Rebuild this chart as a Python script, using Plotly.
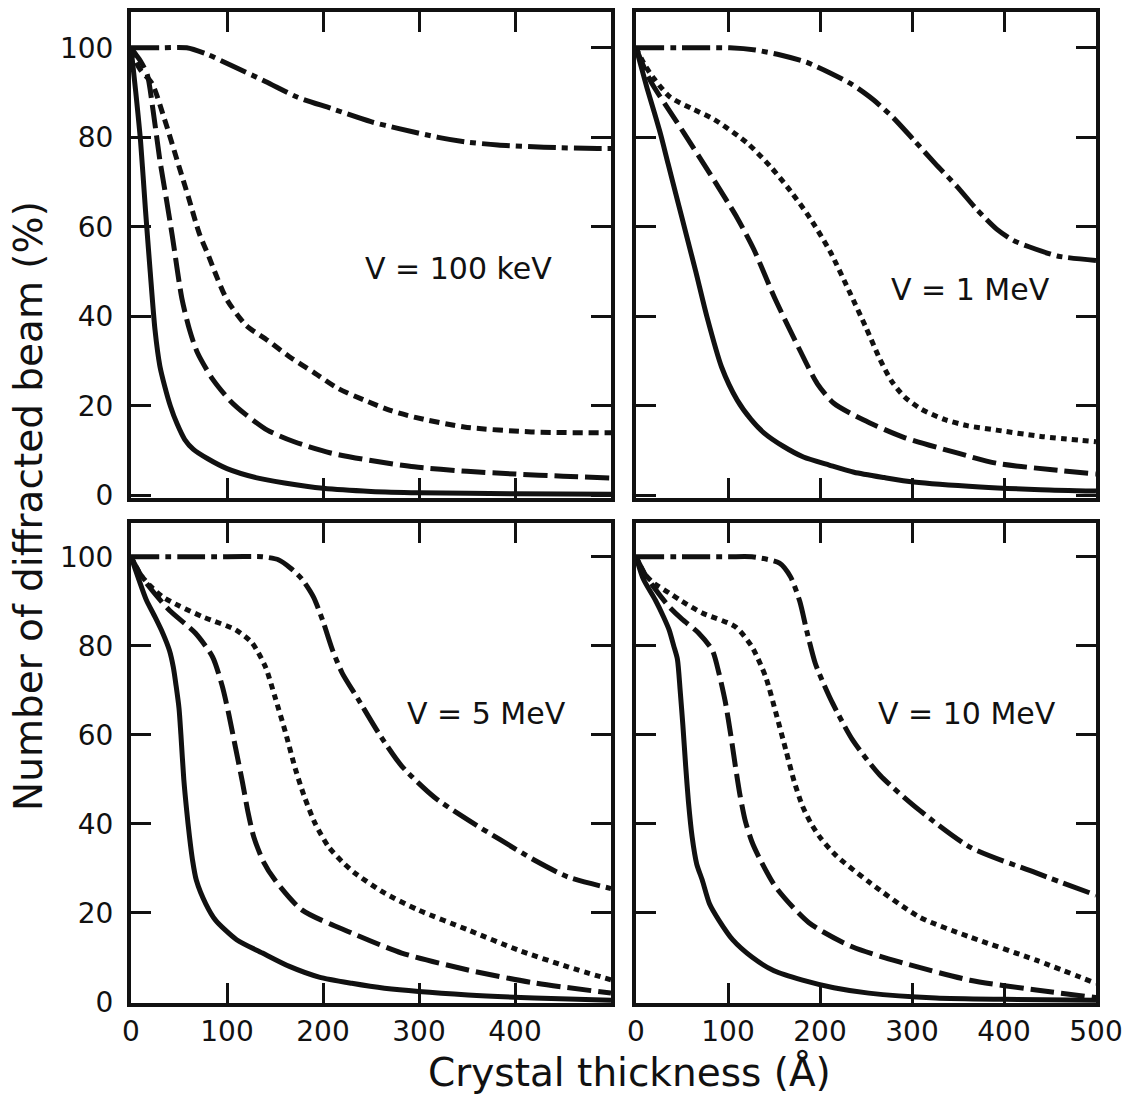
import plotly.graph_objects as go

# ---------------- data ----------------
# V = 100 keV (top-left)
kev100_solid_x = [0, 5, 10, 15, 20, 25, 30, 35, 41, 48, 56, 65, 80, 100, 130, 160, 200, 250, 300, 400, 500]
kev100_solid_y = [100, 90, 79, 64, 50, 37, 29, 24.5, 20, 16, 12.5, 10.3, 8.2, 6, 4, 2.8, 1.6, 0.9, 0.6, 0.4, 0.3]
kev100_long_x = [0, 5, 10, 17, 23, 30, 37, 43, 53, 61, 69, 85, 104, 120, 142, 170, 208, 250, 295, 350, 400, 450, 500]
kev100_long_y = [100, 98.5, 97, 94, 86, 75, 66, 58, 44, 37, 32, 26, 21, 18, 14.6, 12, 9.5, 7.8, 6.4, 5.4, 4.8, 4.3, 3.9]
kev100_short_x = [0, 5, 10, 22, 35, 50, 60, 71, 81, 90, 100, 120, 142, 165, 191, 215, 243, 270, 295, 347, 417, 500]
kev100_short_y = [100, 97, 95, 92, 84, 73.5, 66.5, 58.6, 53.4, 48.5, 43.7, 38, 34.7, 31, 27.4, 24, 21.3, 19, 17.5, 15.3, 14.2, 14]
kev100_dd_x = [0, 30, 58, 80, 103, 140, 173, 208, 250, 278, 320, 348, 382, 430, 486, 500]
kev100_dd_y = [100, 100, 100, 98.5, 96.2, 92.5, 89, 86.5, 83.5, 82, 80, 79, 78.3, 77.8, 77.5, 77.5]

# V = 1 MeV (top-right)
mev1_solid_x = [0, 6, 12, 20, 27, 35, 45, 55, 65, 77, 93, 110, 125, 139, 160, 182, 210, 237, 270, 302, 374, 440, 500]
mev1_solid_y = [100, 95.5, 91, 85.5, 80.5, 74, 66, 58, 50, 40, 28.7, 21.3, 17, 14, 11, 8.6, 6.8, 5.2, 4, 3, 1.9, 1.3, 1]
mev1_long_x = [0, 8, 16, 24, 33, 52, 80, 110, 128, 151, 178, 197, 215, 247, 291, 349, 392, 450, 500]
mev1_long_y = [100, 96, 92.5, 89.8, 87, 81, 72, 62, 55, 44, 32.5, 25, 20.6, 16.9, 13, 9.5, 7.2, 5.8, 4.8]
mev1_short_x = [0, 10, 20, 37, 60, 85, 121, 146, 168, 189, 211, 232, 250, 265, 278, 292, 310, 335, 360, 392, 440, 500]
mev1_short_y = [100, 96, 93, 89, 86.5, 84, 78.7, 73.5, 68, 62, 54.5, 45.5, 37.5, 30.5, 25.5, 22, 19.3, 17, 15.6, 14.6, 13.2, 12]
mev1_dd_x = [0, 50, 102, 130, 157, 185, 211, 235, 258, 280, 302, 325, 349, 370, 392, 410, 428, 458, 500]
mev1_dd_y = [100, 100, 100, 99.5, 98.4, 96.8, 94.4, 91.8, 88.4, 84.3, 79.4, 74.2, 69, 64, 59.5, 57, 55.5, 53.5, 52.5]

# V = 5 MeV (bottom-left)
mev5_solid_x = [0, 8, 16, 25, 33, 40, 44, 47, 50, 52, 55, 58, 61, 64, 68, 78, 88, 110, 137, 165, 196, 230, 264, 351, 420, 500]
mev5_solid_y = [100, 95, 90.3, 86.5, 82.9, 79, 75.3, 71, 66, 60, 50, 43, 37, 32, 27.4, 22, 18.4, 14, 11, 8, 5.6, 4.2, 3.1, 1.6, 0.9, 0.4]
mev5_long_x = [0, 10, 20, 40, 67, 85, 95, 102, 109, 116, 122, 128, 138, 150, 178, 230, 282, 351, 420, 500]
mev5_long_y = [100, 96, 93, 88, 82.9, 77.5, 71, 64.5, 57, 49.5, 42.5, 37, 31.5, 27.4, 20.7, 15.5, 11, 7.2, 4.3, 2]
mev5_short_x = [0, 10, 20, 33, 50, 75, 109, 126, 140, 150, 161, 171, 180, 192, 206, 220, 233, 264, 299, 351, 403, 455, 500]
mev5_short_y = [100, 96, 93.5, 91, 89, 86.5, 83.6, 80.7, 75.3, 68.5, 60.5, 52.5, 46.5, 40, 34.8, 31.5, 29, 24.5, 20.7, 16.2, 11.7, 7.9, 5]
mev5_dd_x = [0, 50, 100, 137, 154, 166, 178, 190, 200, 210, 220, 237, 258, 282, 316, 351, 385, 420, 455, 500]
mev5_dd_y = [100, 100, 100, 100, 99.3, 97.5, 95, 91, 85.5, 79, 73.9, 67.9, 60.4, 53, 46, 40.9, 36.4, 31.9, 28.1, 25.5]

# V = 10 MeV (bottom-right)
mev10_solid_x = [0, 8, 21, 30, 36, 41, 45, 48, 51, 54, 57, 61, 66, 72, 80, 90, 105, 126, 150, 181, 215, 253, 326, 400, 500]
mev10_solid_y = [100, 95, 90.3, 86.5, 83.6, 80, 77, 70, 62, 53, 45, 37.1, 31, 27.4, 22, 18.4, 14, 10.1, 7, 4.9, 3.2, 2, 0.9, 0.6, 0.4]
mev10_long_x = [0, 10, 20, 36, 50, 68, 83, 90, 97, 103, 108, 113, 119, 126, 134, 152, 188, 235, 290, 363, 435, 500]
mev10_long_y = [100, 96, 93, 88.8, 86, 82.9, 79, 74, 67.5, 60, 53, 46.5, 40.5, 36, 32.4, 25.8, 17.8, 12.4, 8.8, 4.9, 2.7, 1]
mev10_short_x = [0, 10, 20, 36, 50, 72, 108, 126, 141, 152, 163, 172, 181, 190, 200, 217, 253, 308, 363, 435, 500]
mev10_short_y = [100, 96, 94, 91.9, 90, 87.4, 84.3, 79.8, 73, 65, 56.5, 49.5, 44, 40.2, 37, 33, 27, 19.1, 14.6, 9.4, 4.2]
mev10_dd_x = [0, 50, 101, 126, 156, 168, 178, 186, 195, 205, 214, 235, 265, 308, 363, 435, 500]
mev10_dd_y = [100, 100, 100, 100, 98.6, 95.5, 90, 83, 76, 71, 67, 59, 51, 43.1, 34.8, 29, 24]

panel_labels = ["V = 100 keV", "V = 1 MeV", "V = 5 MeV", "V = 10 MeV"]
x_ticks = [0, 100, 200, 300, 400, 500]
x_ticktext_left = ["0", "100", "200", "300", "400", ""]
x_ticktext_right = ["0", "100", "200", "300", "400", "500"]
y_ticks = [0, 20, 40, 60, 80, 100]
x_title = "Crystal thickness (Å)"
y_title = "Number of diffracted beam (%)"

# ---------------- figure ----------------
W, H = 1145, 1107
INK = "#111111"
FONT = "DejaVu Sans"

solid = "solid"
long_dash = "24px,7px"
short_dash_tl = "10px,6px"
dotted = "6px,5px"
dash_dot = "28px,6px,6px,6px"

panels = [
    (1, [(kev100_solid_x, kev100_solid_y, solid), (kev100_long_x, kev100_long_y, long_dash),
         (kev100_short_x, kev100_short_y, short_dash_tl), (kev100_dd_x, kev100_dd_y, dash_dot)]),
    (2, [(mev1_solid_x, mev1_solid_y, solid), (mev1_long_x, mev1_long_y, long_dash),
         (mev1_short_x, mev1_short_y, dotted), (mev1_dd_x, mev1_dd_y, dash_dot)]),
    (3, [(mev5_solid_x, mev5_solid_y, solid), (mev5_long_x, mev5_long_y, long_dash),
         (mev5_short_x, mev5_short_y, dotted), (mev5_dd_x, mev5_dd_y, dash_dot)]),
    (4, [(mev10_solid_x, mev10_solid_y, solid), (mev10_long_x, mev10_long_y, long_dash),
         (mev10_short_x, mev10_short_y, dotted), (mev10_dd_x, mev10_dd_y, dash_dot)]),
]

fig = go.Figure()
for idx, series in panels:
    sfx = "" if idx == 1 else str(idx)
    for xs, ys, dash in series:
        fig.add_trace(go.Scatter(
            x=xs, y=ys, mode="lines",
            line=dict(color=INK, width=5, dash=dash, shape="spline", smoothing=0.7),
            xaxis="x" + sfx, yaxis="y" + sfx, showlegend=False, hoverinfo="skip"))

def px_x(p):
    return p / W

def px_y(p):
    return 1 - p / H

x_dom_left = [px_x(131), px_x(611)]
x_dom_right = [px_x(636), px_x(1096)]
y_dom_top = [px_y(498), px_y(12)]
y_dom_bot = [px_y(1003), px_y(523)]

def xaxis(dom, anchor, ticktext, show):
    return dict(domain=dom, anchor=anchor, range=[0, 500], tickvals=x_ticks, ticktext=ticktext,
                showticklabels=show, ticks="inside", ticklen=20, tickwidth=2.5, tickcolor=INK,
                showline=True, linewidth=4, linecolor=INK, mirror="ticks", showgrid=False,
                zeroline=False, tickfont=dict(family=FONT, size=28, color=INK), automargin=False)

def yaxis(dom, anchor, rng, show):
    return dict(domain=dom, anchor=anchor, range=rng, tickvals=y_ticks,
                showticklabels=show, ticks="inside", ticklen=20, tickwidth=2.5, tickcolor=INK,
                showline=True, linewidth=4, linecolor=INK, mirror="ticks", showgrid=False,
                zeroline=False, tickfont=dict(family=FONT, size=28, color=INK),
                ticklabelstandoff=8, automargin=False)

top_rng = [-0.56, 108.0]
bot_rng = [-0.22, 107.6]

fig.update_layout(
    width=W, height=H, autosize=False,
    margin=dict(l=0, r=0, t=0, b=0, pad=0, autoexpand=False),
    paper_bgcolor="white", plot_bgcolor="white",
    xaxis=xaxis(x_dom_left, "y", x_ticktext_left, False),
    yaxis=yaxis(y_dom_top, "x", top_rng, True),
    xaxis2=xaxis(x_dom_right, "y2", x_ticktext_right, False),
    yaxis2=yaxis(y_dom_top, "x2", top_rng, False),
    xaxis3=xaxis(x_dom_left, "y3", x_ticktext_left, True),
    yaxis3=yaxis(y_dom_bot, "x3", bot_rng, True),
    xaxis4=xaxis(x_dom_right, "y4", x_ticktext_right, True),
    yaxis4=yaxis(y_dom_bot, "x4", bot_rng, False),
)

label_pos = [(458, 268), (970, 289), (486, 713), (967, 713)]
for text, (lx, ly) in zip(panel_labels, label_pos):
    fig.add_annotation(text=text, x=px_x(lx), y=px_y(ly), xref="paper", yref="paper",
                       showarrow=False, xanchor="center", yanchor="middle",
                       font=dict(family=FONT, size=30, color=INK))

fig.add_annotation(text=x_title, x=px_x(629), y=px_y(1072), xref="paper", yref="paper",
                   showarrow=False, xanchor="center", yanchor="middle",
                   font=dict(family=FONT, size=39, color=INK))
fig.add_annotation(text=y_title, x=px_x(28), y=px_y(506), xref="paper", yref="paper",
                   showarrow=False, xanchor="center", yanchor="middle", textangle=-90,
                   font=dict(family=FONT, size=39, color=INK))

fig.write_html("out.html")
